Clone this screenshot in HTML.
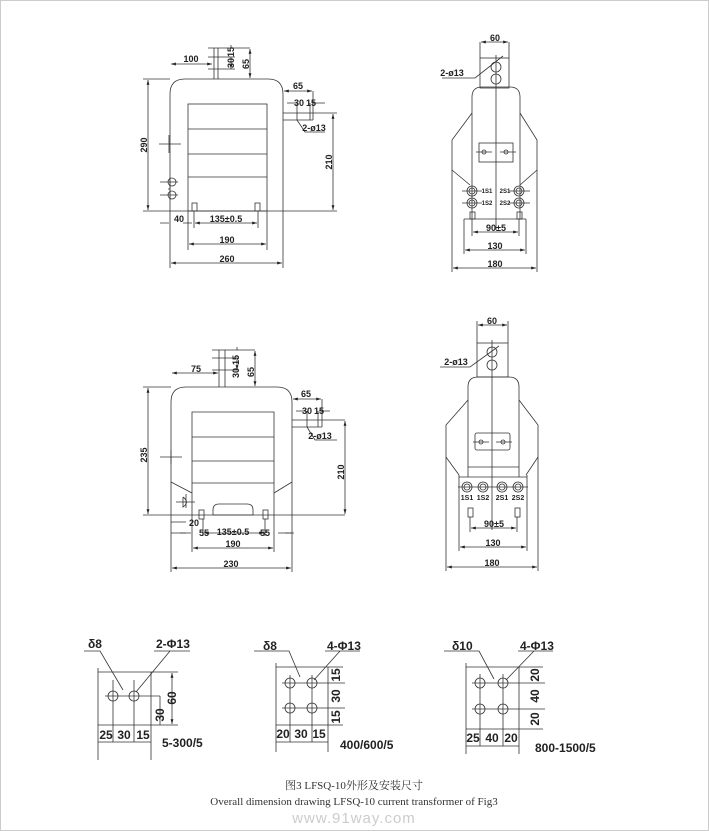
<!DOCTYPE html>
<html><head><meta charset="utf-8"><style>
html,body{margin:0;padding:0;background:#fff}
svg{display:block}
text{font-family:"Liberation Sans",Arial,sans-serif;font-size:9px;font-weight:bold;fill:#222}
.b text{font-size:12px}
.cap{font-family:"Liberation Serif","Noto Serif CJK SC",serif;font-weight:normal;font-size:11px;fill:#333}
</style></head><body>
<svg width="709" height="831" viewBox="0 0 709 831" xmlns="http://www.w3.org/2000/svg">
<defs>
<marker id="a" viewBox="0 0 10 6" refX="10" refY="3" markerWidth="6" markerHeight="4" orient="auto-start-reverse"><path d="M0,0L10,3L0,6z" fill="#222"/></marker>
</defs>
<rect x="0.5" y="0.5" width="708" height="830" fill="none" stroke="#ccc"/>
<g stroke="#333" stroke-width="0.8" fill="none">
<!-- ===== TOP LEFT ===== -->
<path d="M170,211V94Q170,79 185,79H268Q283,79 283,94V211"/>
<rect x="188" y="104" width="79" height="107"/>
<path d="M188,129H267M188,154H267M188,177H267"/>
<path d="M214,48V79M218,48V79M208,57H235M208,69H235M208,48H250"/>
<path d="M159,144H181M169,135V153"/>
<path d="M160,182H178M160,195H178M170,177V200M168,189H170"/>
<circle cx="172" cy="182" r="4"/><circle cx="172" cy="195" r="4"/>
<rect x="192" y="203" width="5" height="8"/><rect x="255" y="203" width="5" height="8"/>
<path d="M143,211H337"/>
<path d="M143,79H170M283,113H337M283,120H313M313,91V120M297,103V120M310,103V120"/>
<path d="M297,120L305,132H325"/>
<path d="M170,211V268M188,211V250M267,211V250M283,211V268M194,211V228M258,211V228"/>
<g marker-start="url(#a)" marker-end="url(#a)">
<path d="M148,80V210"/><path d="M333,114V210"/><path d="M250,49V78"/>
<path d="M171,64H212"/><path d="M284,91H312"/>
<path d="M195,223H257"/><path d="M189,244H266"/><path d="M171,263H282"/>
</g>
<path d="M231,45V48M231,57V69" marker-end="url(#a)"/>
<path d="M160,223H169M183,223H192" />
<path d="M287,103H296M325,103H312"/>
<!-- ===== TOP RIGHT ===== -->
<rect x="480" y="58" width="29" height="30"/>
<circle cx="496" cy="67" r="5"/><circle cx="496" cy="79" r="5"/>
<path d="M480,42V58M509,42V58"/>
<path d="M472,219V97Q472,87 482,87H510Q520,87 520,97V219"/>
<path d="M472,113L452,140V170L470,185M520,113L537,140V170L520,185"/>
<path d="M452,170V272M537,170V272M464,219V254M526,219V254"/>
<path d="M464,219H526"/>
<path d="M496,55V230"/>
<rect x="479" y="143" width="34" height="19"/>
<circle cx="484" cy="152" r="2"/><circle cx="506" cy="152" r="2"/>
<path d="M476,152H492M500,152H516"/>
<circle cx="472" cy="191" r="5"/><circle cx="472" cy="191" r="3"/>
<circle cx="472" cy="203" r="5"/><circle cx="472" cy="203" r="3"/>
<circle cx="519" cy="191" r="5"/><circle cx="519" cy="191" r="3"/>
<circle cx="519" cy="203" r="5"/><circle cx="519" cy="203" r="3"/>
<path d="M462,191H482M462,203H482M509,191H530M509,203H530"/>
<rect x="470" y="212" width="5" height="7"/><rect x="517" y="212" width="5" height="7"/>
<path d="M472,219V236M519,219V236"/>
<path d="M442,78H475L503,56"/>
<g marker-start="url(#a)" marker-end="url(#a)">
<path d="M481,42H508"/><path d="M473,232H518"/><path d="M465,250H525"/><path d="M453,268H536"/>
</g>
<!-- ===== BOTTOM LEFT ===== -->
<path d="M171,515V402Q171,387 186,387H277Q292,387 292,402V515"/>
<path d="M192,515V412H274V515"/>
<path d="M192,437H274M192,461H274M192,483H274"/>
<path d="M171,482L192,493M292,482L274,493"/>
<path d="M213,515V510Q213,504 219,504H247Q253,504 253,510V515M213,515H253"/>
<path d="M219,350V387M225,350V387M212,358H238M212,370H238M212,350H255"/>
<path d="M160,457H182M171,450V464"/>
<path d="M183,497V507Q190,502 183,497M176,502H195M186,494V508"/>
<rect x="199" y="510" width="5" height="9"/><rect x="263" y="510" width="5" height="9"/>
<path d="M143,515H345"/>
<path d="M143,387H171M292,420H345M292,427H322M322,399V427M307,411V427M318,411V427"/>
<path d="M307,427L315,440H337"/>
<path d="M171,515V572M192,515V552M274,515V552M292,515V572M203,519V536M265,519V536"/>
<path d="M171,522H186M171,533H186M278,533H292"/>
<g marker-start="url(#a)" marker-end="url(#a)">
<path d="M148,388V514"/><path d="M345,421V514"/><path d="M255,351V386"/>
<path d="M172,373H218"/><path d="M293,399H321"/>
<path d="M204,533H264"/><path d="M193,548H273"/><path d="M172,568H291"/>
</g>
<path d="M180,533H191M285,533H294"/>
<path d="M237,347V350M237,358V370" marker-end="url(#a)"/>
<path d="M296,411H306M330,411H319"/>
<!-- ===== BOTTOM RIGHT ===== -->
<rect x="477" y="343" width="31" height="34"/>
<circle cx="492" cy="352" r="5"/><circle cx="492" cy="365" r="5"/>
<path d="M477,321V343M508,321V343"/>
<path d="M468,477V387Q468,377 478,377H509Q519,377 519,387V477"/>
<path d="M468,400L446,425V457L459,475M519,400L538,425V457L526,475"/>
<path d="M446,457V571M538,457V571M459,475V551M527,475V551"/>
<path d="M468,467H519M459,477H527"/>
<path d="M492,340V530"/>
<rect x="475" y="433" width="35" height="17" rx="2"/>
<circle cx="481" cy="442" r="2"/><circle cx="503" cy="442" r="2"/>
<path d="M473,442H489M496,442H512"/>
<circle cx="467" cy="487" r="5"/><circle cx="467" cy="487" r="3"/>
<circle cx="483" cy="487" r="5"/><circle cx="483" cy="487" r="3"/>
<circle cx="502" cy="487" r="5"/><circle cx="502" cy="487" r="3"/>
<circle cx="518" cy="487" r="5"/><circle cx="518" cy="487" r="3"/>
<path d="M458,487H528"/>
<rect x="468" y="508" width="5" height="9"/><rect x="515" y="508" width="5" height="9"/>
<path d="M470,517V532M517,517V532"/>
<path d="M440,367H470L499,346"/>
<g marker-start="url(#a)" marker-end="url(#a)">
<path d="M478,325H507"/><path d="M471,528H516"/><path d="M460,547H526"/><path d="M447,567H537"/>
</g>
</g>
<!-- texts top-left -->
<text x="191" y="62" text-anchor="middle">100</text>
<text transform="translate(234,63) rotate(-90)" text-anchor="middle">30</text>
<text transform="translate(234,52) rotate(-90)" text-anchor="middle">15</text>
<text transform="translate(249,64) rotate(-90)" text-anchor="middle">65</text>
<text x="298" y="89" text-anchor="middle">65</text>
<text x="299" y="106" text-anchor="middle">30</text>
<text x="311" y="106" text-anchor="middle">15</text>
<text x="314" y="131" text-anchor="middle">2-ø13</text>
<text transform="translate(332,162) rotate(-90)" text-anchor="middle">210</text>
<text transform="translate(147,145) rotate(-90)" text-anchor="middle">290</text>
<text x="179" y="222" text-anchor="middle">40</text>
<text x="226" y="222" text-anchor="middle">135±0.5</text>
<text x="227" y="243" text-anchor="middle">190</text>
<text x="227" y="262" text-anchor="middle">260</text>
<!-- top-right -->
<text x="495" y="41" text-anchor="middle">60</text>
<text x="452" y="76" text-anchor="middle">2-ø13</text>
<text x="487" y="193" text-anchor="middle" style="font-size:6px">1S1</text>
<text x="505" y="193" text-anchor="middle" style="font-size:6px">2S1</text>
<text x="487" y="205" text-anchor="middle" style="font-size:6px">1S2</text>
<text x="505" y="205" text-anchor="middle" style="font-size:6px">2S2</text>
<text x="496" y="231" text-anchor="middle">90±5</text>
<text x="495" y="249" text-anchor="middle">130</text>
<text x="495" y="267" text-anchor="middle">180</text>
<!-- bottom-left -->
<text x="196" y="372" text-anchor="middle">75</text>
<text transform="translate(239,373) rotate(-90)" text-anchor="middle">30</text>
<text transform="translate(239,360) rotate(-90)" text-anchor="middle">15</text>
<text transform="translate(254,372) rotate(-90)" text-anchor="middle">65</text>
<text x="306" y="397" text-anchor="middle">65</text>
<text x="307" y="414" text-anchor="middle">30</text>
<text x="319" y="414" text-anchor="middle">15</text>
<text x="320" y="439" text-anchor="middle">2-ø13</text>
<text transform="translate(344,472) rotate(-90)" text-anchor="middle">210</text>
<text transform="translate(147,455) rotate(-90)" text-anchor="middle">235</text>
<text x="194" y="526" text-anchor="middle">20</text>
<text x="204" y="536" text-anchor="middle">55</text>
<text x="233" y="535" text-anchor="middle">135±0.5</text>
<text x="265" y="536" text-anchor="middle">55</text>
<text x="233" y="547" text-anchor="middle">190</text>
<text x="231" y="567" text-anchor="middle">230</text>
<!-- bottom-right -->
<text x="492" y="324" text-anchor="middle">60</text>
<text x="456" y="365" text-anchor="middle">2-ø13</text>
<text x="467" y="500" text-anchor="middle" style="font-size:7px">1S1</text>
<text x="483" y="500" text-anchor="middle" style="font-size:7px">1S2</text>
<text x="502" y="500" text-anchor="middle" style="font-size:7px">2S1</text>
<text x="518" y="500" text-anchor="middle" style="font-size:7px">2S2</text>
<text x="494" y="527" text-anchor="middle">90±5</text>
<text x="493" y="546" text-anchor="middle">130</text>
<text x="492" y="566" text-anchor="middle">180</text>
<!-- ===== BOTTOM PANELS ===== -->
<g stroke="#333" stroke-width="0.8" fill="none">
<!-- panel 1 -->
<path d="M84,651H100L123,690M154,651H190M170,651L136,692"/>
<path d="M98,672H178M98,725H178M98,742H151M98,668V760M151,672V760"/>
<path d="M105,696H160M113,680V742M134,680V742M160,696V725"/>
<circle cx="113" cy="696" r="5"/><circle cx="134" cy="696" r="5"/>
<path d="M172,673V724" marker-start="url(#a)" marker-end="url(#a)"/>
<!-- panel 2 -->
<path d="M254,651H289L300,677M325,651H360M340,651L314,680"/>
<path d="M276,667H343M276,725H343M276,742H328M276,663V752M328,667V752"/>
<path d="M282,683H345M282,708H345M290,675V742M312,675V742"/>
<circle cx="290" cy="683" r="5"/><circle cx="312" cy="683" r="5"/>
<circle cx="290" cy="708" r="5"/><circle cx="312" cy="708" r="5"/>
<!-- panel 3 -->
<path d="M444,651H479L494,679M518,651H553M534,651L506,680"/>
<path d="M466,667H543M466,729H543M466,746H519M466,663V754M519,667V754"/>
<path d="M472,683H545M472,709H545M480,674V746M503,674V746"/>
<circle cx="480" cy="683" r="5"/><circle cx="503" cy="683" r="5"/>
<circle cx="480" cy="709" r="5"/><circle cx="503" cy="709" r="5"/>
</g>
<g class="b">
<text x="88" y="648">δ8</text>
<text x="156" y="648">2-Φ13</text>
<text transform="translate(176,698) rotate(-90)" text-anchor="middle">60</text>
<text transform="translate(164,715) rotate(-90)" text-anchor="middle">30</text>
<text x="106" y="739" text-anchor="middle">25</text>
<text x="124" y="739" text-anchor="middle">30</text>
<text x="143" y="739" text-anchor="middle">15</text>
<text x="162" y="747">5-300/5</text>
<text x="263" y="650">δ8</text>
<text x="327" y="650">4-Φ13</text>
<text transform="translate(340,675) rotate(-90)" text-anchor="middle">15</text>
<text transform="translate(340,696) rotate(-90)" text-anchor="middle">30</text>
<text transform="translate(340,717) rotate(-90)" text-anchor="middle">15</text>
<text x="283" y="738" text-anchor="middle">20</text>
<text x="301" y="738" text-anchor="middle">30</text>
<text x="319" y="738" text-anchor="middle">15</text>
<text x="340" y="749">400/600/5</text>
<text x="452" y="650">δ10</text>
<text x="520" y="650">4-Φ13</text>
<text transform="translate(539,675) rotate(-90)" text-anchor="middle">20</text>
<text transform="translate(539,696) rotate(-90)" text-anchor="middle">40</text>
<text transform="translate(539,719) rotate(-90)" text-anchor="middle">20</text>
<text x="473" y="742" text-anchor="middle">25</text>
<text x="492" y="742" text-anchor="middle">40</text>
<text x="511" y="742" text-anchor="middle">20</text>
<text x="535" y="752">800-1500/5</text>
</g>
<!-- caption -->
<text class="cap" x="354" y="789" text-anchor="middle">图3 LFSQ-10外形及安装尺寸</text>
<text class="cap" x="354" y="805" text-anchor="middle">Overall dimension drawing LFSQ-10 current transformer of Fig3</text>
<text x="354" y="823" text-anchor="middle" style="font-size:15px;font-weight:normal;fill:#ccc;letter-spacing:1px">www.91way.com</text>
</svg>
</body></html>
